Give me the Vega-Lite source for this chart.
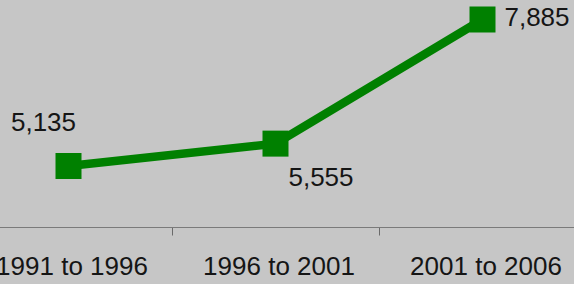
{
  "$schema": "https://vega.github.io/schema/vega-lite/v6.json",
  "width": 574,
  "height": 227,
  "padding": {"left": 0, "top": 0, "right": 0, "bottom": 57},
  "autosize": {"type": "none"},
  "background": "#c6c6c6",
  "config": {"view": {"stroke": null}, "font": "Liberation Sans"},
  "data": {"values": [
    {"period": "1991 to 1996", "value": 5135},
    {"period": "1996 to 2001", "value": 5555},
    {"period": "2001 to 2006", "value": 7885}
  ]},
  "encoding": {
    "x": {"field": "period", "type": "nominal", "sort": null,
      "scale": {"type": "band", "range": [-35, 586], "paddingInner": 0, "paddingOuter": 0},
      "axis": {"title": null, "labelAngle": 0, "labelFontSize": 26, "labelColor": "#151515", "labelFont": "Liberation Sans",
        "domainColor": "#7a7a7a", "domainWidth": 1, "tickColor": "#6a6a6a", "tickSize": 8, "tickWidth": 1,
        "tickOffset": -103.5, "labelOffset": 106.5, "labelPadding": 18, "grid": false}},
    "y": {"field": "value", "type": "quantitative", "scale": {"domain": [3990, 8251], "zero": false, "nice": false}, "axis": null}
  },
  "layer": [
    {"mark": {"type": "line", "color": "#008000", "strokeWidth": 8.5}},
    {"mark": {"type": "square", "color": "#008000", "opacity": 1, "filled": true, "size": 676}},
    {"transform": [{"filter": "datum.period === '1991 to 1996'"}],
     "mark": {"type": "text", "fontSize": 26, "color": "#151515", "dx": -25, "dy": -43},
     "encoding": {"text": {"field": "value", "type": "quantitative", "format": ","}}},
    {"transform": [{"filter": "datum.period === '1996 to 2001'"}],
     "mark": {"type": "text", "fontSize": 26, "color": "#151515", "dx": 45.5, "dy": 34.5},
     "encoding": {"text": {"field": "value", "type": "quantitative", "format": ","}}},
    {"transform": [{"filter": "datum.period === '2001 to 2006'"}],
     "mark": {"type": "text", "fontSize": 26, "color": "#151515", "dx": 54.5, "dy": -1},
     "encoding": {"text": {"field": "value", "type": "quantitative", "format": ","}}}
  ]
}
